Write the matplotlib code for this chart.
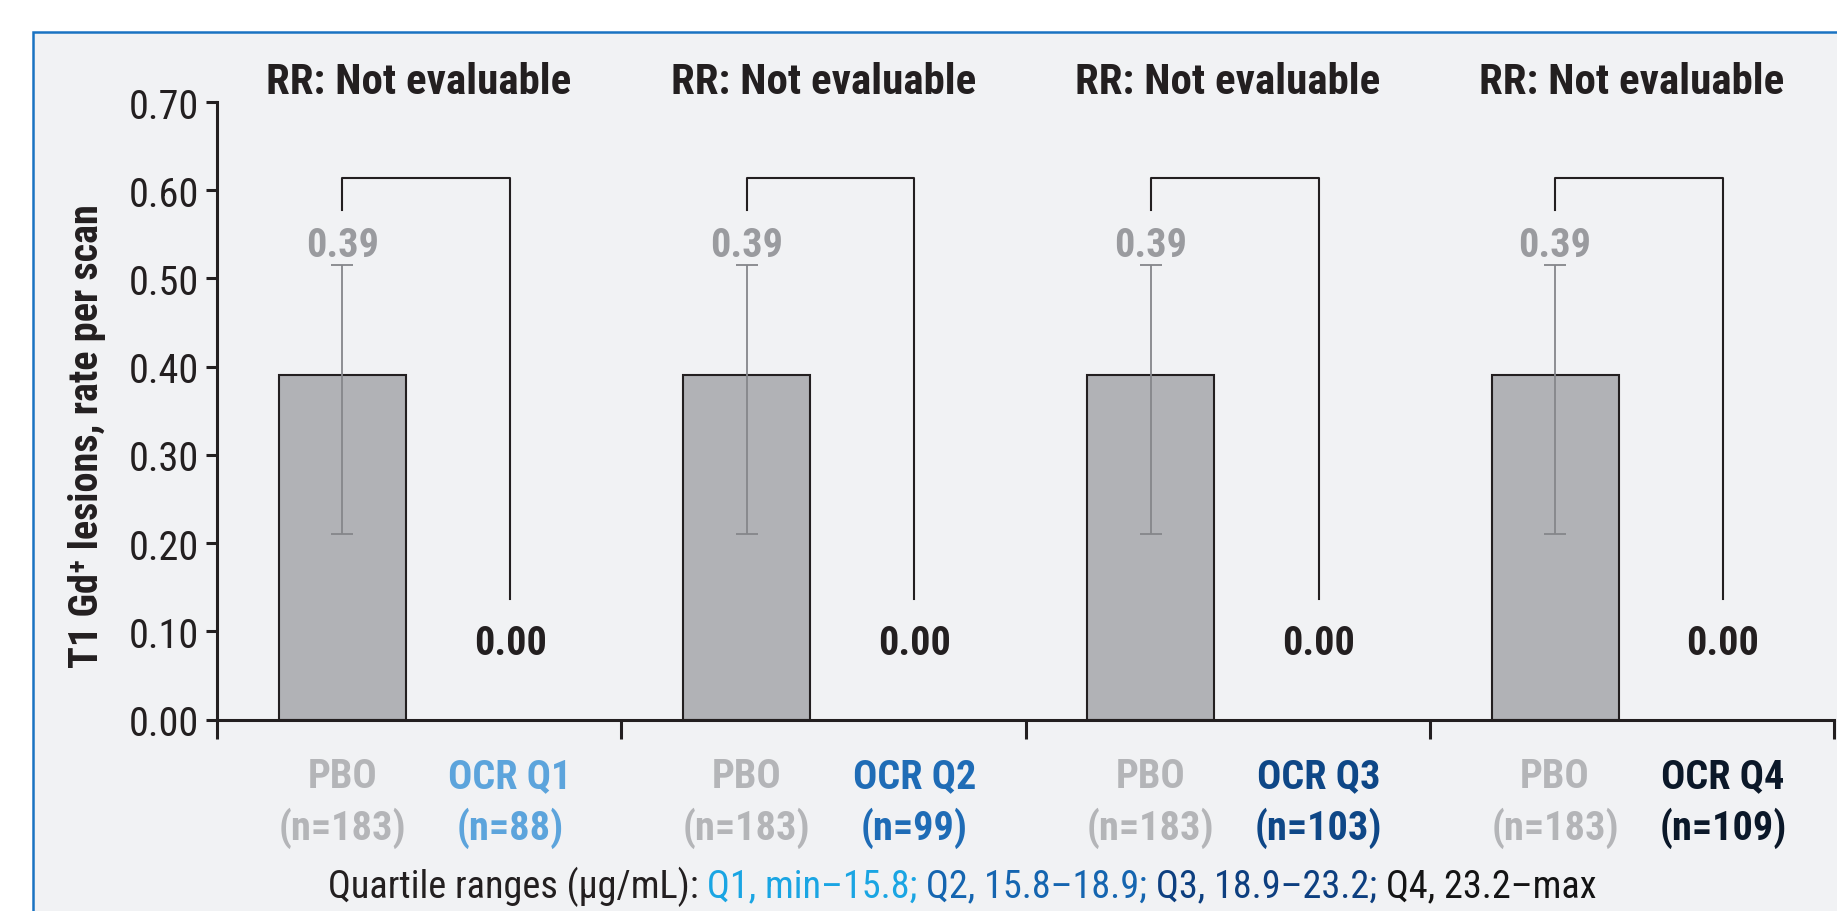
import matplotlib
matplotlib.use('Agg')
import matplotlib.pyplot as plt
import matplotlib.transforms as mtrans
from matplotlib.patches import Rectangle
from matplotlib import font_manager as fm

_names = {f.name for f in fm.fontManager.ttflist}
_main = 'Liberation Sans'
for cand in ['Roboto Condensed', 'Liberation Sans Narrow', 'Open Sans Condensed']:
    if cand in _names:
        _main = cand
        break
plt.rcParams['font.family'] = [_main, 'Liberation Sans', 'DejaVu Sans']

# ---------------- data ----------------
groups = ['Q1', 'Q2', 'Q3', 'Q4']
pbo_label = 'PBO'
pbo_n = [183, 183, 183, 183]
ocr_labels = ['OCR Q1', 'OCR Q2', 'OCR Q3', 'OCR Q4']
ocr_n = [88, 99, 103, 109]
pbo_rate = [0.39, 0.39, 0.39, 0.39]
pbo_ci_low = [0.21, 0.21, 0.21, 0.21]
pbo_ci_high = [0.515, 0.515, 0.515, 0.515]
ocr_rate = [0.00, 0.00, 0.00, 0.00]
rr_text = ['RR: Not evaluable'] * 4
yticks = [0.00, 0.10, 0.20, 0.30, 0.40, 0.50, 0.60, 0.70]
ylabel = 'T1 Gd\u207a lesions, rate per scan'
caption_parts = [
    ('Quartile ranges (\u00b5g/mL): ', '#231F20'),
    ('Q1, min\u201315.8; ', '#1AA5E3'),
    ('Q2, 15.8\u201318.9; ', '#1565B0'),
    ('Q3, 18.9\u201323.2; ', '#0D3F80'),
    ('Q4, 23.2\u2013max', '#141414'),
]

# ---------------- style ----------------
pbo_color = '#B1B2B6'
pbo_text_color = '#B4B5B8'
pbo_value_color = '#9A9B9F'
ocr_colors = ['#5CA4DC', '#1F6CB6', '#0E4787', '#0B1829']
dark = '#231F20'
bg = '#F1F2F4'
frame = '#1A73C2'
fs_tick = 29
fs_bold = 29
fs_title = 31

fig = plt.figure(figsize=(18.37, 9.12), dpi=100)
fig.patch.set_facecolor('white')
fig.patches.append(Rectangle((33 / 1837, -0.1), 1.2, 1.1 - 33 / 912,
                             transform=fig.transFigure, facecolor=bg,
                             edgecolor=frame, linewidth=1.8, zorder=-10))

ax = fig.add_axes([217 / 1837, 1 - 720.5 / 912, (1834 - 217) / 1837, (720.5 - 103) / 912])
ax.set_facecolor('none')
ax.set_zorder(1)

x_pbo = [i + 0.31 for i in range(len(groups))]
x_ocr = [i + 0.725 for i in range(len(groups))]

ax.bar(x_pbo, pbo_rate, width=0.314, color=pbo_color, edgecolor=dark, linewidth=1.5, zorder=2)
ax.bar(x_ocr, ocr_rate, width=0.314, color=pbo_color, edgecolor=dark, linewidth=0, zorder=2)
yerr = [[r - l for r, l in zip(pbo_rate, pbo_ci_low)],
        [h - r for r, h in zip(pbo_rate, pbo_ci_high)]]
ax.errorbar(x_pbo, pbo_rate, yerr=yerr, fmt='none', ecolor='#85868A',
            elinewidth=1.3, capsize=8, capthick=1.3, zorder=3)

trans = mtrans.blended_transform_factory(ax.transData, ax.transAxes)
for i in range(len(groups)):
    ax.annotate(f'{pbo_rate[i]:.2f}', (x_pbo[i], pbo_ci_high[i]), xytext=(0, 14.5),
                textcoords='offset points', ha='center', va='center',
                fontsize=fs_bold, fontweight='bold', color=pbo_value_color)
    ax.annotate(f'{ocr_rate[i]:.2f}', (x_ocr[i], ocr_rate[i]), xytext=(0, 55),
                textcoords='offset points', ha='center', va='center',
                fontsize=fs_bold, fontweight='bold', color=dark)
    ax.plot([x_pbo[i], x_pbo[i], x_ocr[i], x_ocr[i]], [0.578, 0.614, 0.614, 0.137],
            color=dark, lw=1.5, clip_on=False, zorder=3)
    ax.text(i + 0.50, 1.034, rr_text[i], transform=trans,
            ha='center', va='center', fontsize=fs_title, fontweight='bold', color=dark)

for i in range(len(groups)):
    ax.text(x_pbo[i], -0.091, pbo_label, transform=trans, ha='center', va='center',
            fontsize=fs_bold, fontweight='bold', color=pbo_text_color)
    ax.text(x_pbo[i], -0.175, f'(n={pbo_n[i]})', transform=trans, ha='center', va='center',
            fontsize=fs_bold, fontweight='bold', color=pbo_text_color)
    ax.text(x_ocr[i], -0.091, ocr_labels[i], transform=trans, ha='center', va='center',
            fontsize=fs_bold, fontweight='bold', color=ocr_colors[i])
    ax.text(x_ocr[i], -0.175, f'(n={ocr_n[i]})', transform=trans, ha='center', va='center',
            fontsize=fs_bold, fontweight='bold', color=ocr_colors[i])

ax.set_xlim(0, len(groups))
ax.set_ylim(0, 0.70)
ax.set_yticks(yticks)
ax.set_yticklabels([f'{v:.2f}' for v in yticks], fontsize=fs_tick, color=dark)
ax.set_xticks(range(len(groups) + 1))
ax.set_xticklabels([])
ax.tick_params(axis='y', direction='out', length=8, width=2.2, color=dark, pad=5)
ax.tick_params(axis='x', direction='out', length=14, width=2.2, color=dark)
for s in ['top', 'right']:
    ax.spines[s].set_visible(False)
for s in ['left', 'bottom']:
    ax.spines[s].set_linewidth(2.2)
    ax.spines[s].set_color(dark)
    ax.spines[s].set_zorder(4)

fig.text(87 / 1837, 1 - 436 / 912, ylabel, rotation=90, ha='center', va='center',
         fontsize=29, fontweight='bold', color=dark)

# caption with coloured segments
fig.canvas.draw()
renderer = fig.canvas.get_renderer()
texts = []
for s, c in caption_parts:
    t = fig.text(0, 1 - 887 / 912, s, fontsize=27.5, color=c, ha='left', va='center')
    texts.append(t)
widths = [t.get_window_extent(renderer).width for t in texts]
total = sum(widths)
x0 = 962 - total / 2
for t, w in zip(texts, widths):
    t.set_x(x0 / 1837)
    x0 += w

fig.savefig('out.png', dpi=100, facecolor='white')
